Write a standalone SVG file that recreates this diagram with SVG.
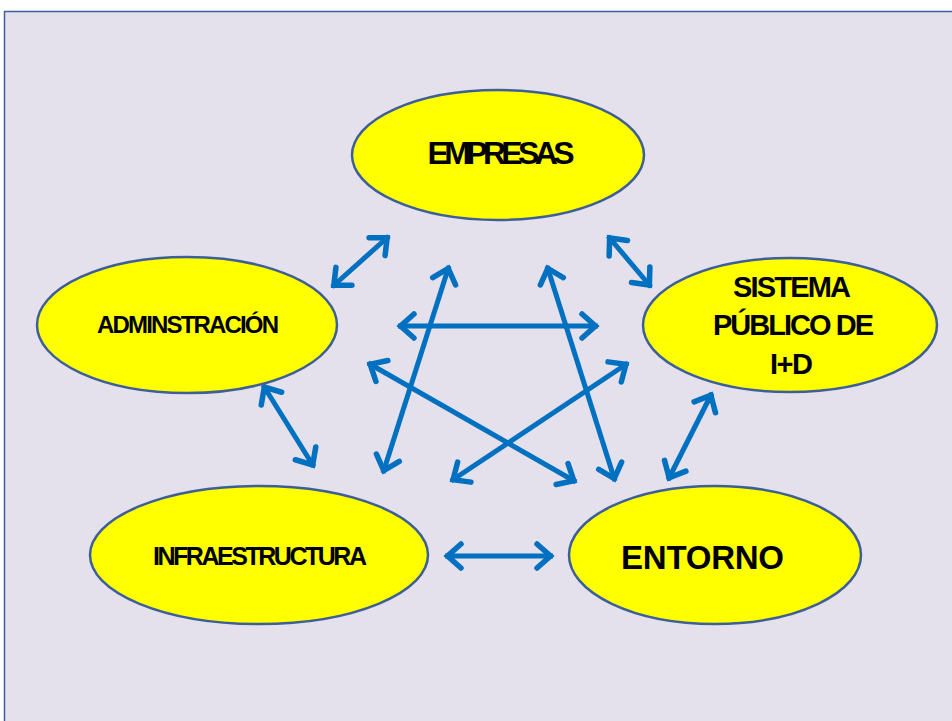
<svg xmlns="http://www.w3.org/2000/svg" width="952" height="721" viewBox="0 0 952 721">
<style>
.node ellipse{fill:#ffff00;stroke:#3d5f96;stroke-width:2.5}
.node text{font-family:"Liberation Sans",Arial,sans-serif;font-weight:bold;fill:#000;text-anchor:middle}
.conn line{stroke:#0070c0;stroke-width:5;marker-start:url(#ah);marker-end:url(#ah)}
</style>
<defs>
<marker id="ah" markerUnits="userSpaceOnUse" viewBox="-22 -16 26 32" refX="0" refY="0" markerWidth="26" markerHeight="32" orient="auto-start-reverse" overflow="visible">
<path d="M-16,-12 L-2.5,0 L-16,12" fill="none" stroke="#0070c0" stroke-width="5.5" stroke-linecap="round" stroke-linejoin="miter"/>
</marker>
</defs>
<rect x="0" y="0" width="952" height="721" fill="#ffffff"/>
<rect x="4.5" y="11.5" width="960" height="720" fill="#e4e0ec" stroke="#3d5f96" stroke-width="1.5"/>
<g id="connectors" class="conn">
<line x1="332" y1="287" x2="389" y2="236"/>
<line x1="608" y1="236" x2="651" y2="287"/>
<line x1="263" y1="385" x2="314" y2="467"/>
<line x1="712" y1="393" x2="668" y2="480"/>
<line x1="445" y1="556" x2="553" y2="556"/>
<line x1="398" y1="326" x2="598" y2="326"/>
<line x1="383" y1="473" x2="449" y2="266"/>
<line x1="547" y1="266" x2="615" y2="481"/>
<line x1="368" y1="363" x2="576" y2="482"/>
<line x1="451" y1="481" x2="628" y2="363"/>
</g>
<g id="empresas" class="node">
<ellipse cx="498" cy="155" rx="146" ry="65"/>
<text x="501" y="164" font-size="32" textLength="147" lengthAdjust="spacing">EMPRESAS</text>
</g>
<g id="sistema" class="node">
<ellipse cx="790" cy="325" rx="147" ry="67"/>
<text x="792" y="297" font-size="29" textLength="118" lengthAdjust="spacing">SISTEMA</text>
<text x="793.5" y="335" font-size="29" textLength="161" lengthAdjust="spacing">PÚBLICO DE</text>
<text x="791.5" y="374" font-size="29" textLength="43" lengthAdjust="spacing">I+D</text>
</g>
<g id="administracion" class="node">
<ellipse cx="187" cy="325" rx="150" ry="68"/>
<text x="188" y="333" font-size="24" textLength="182" lengthAdjust="spacing">ADMINSTRACIÓN</text>
</g>
<g id="infraestructura" class="node">
<ellipse cx="259" cy="555" rx="169" ry="69"/>
<text x="260" y="565" font-size="25" textLength="214" lengthAdjust="spacing">INFRAESTRUCTURA</text>
</g>
<g id="entorno" class="node">
<ellipse cx="715" cy="555" rx="146" ry="69"/>
<text x="702.5" y="569" font-size="33" textLength="163" lengthAdjust="spacing">ENTORNO</text>
</g>
</svg>
